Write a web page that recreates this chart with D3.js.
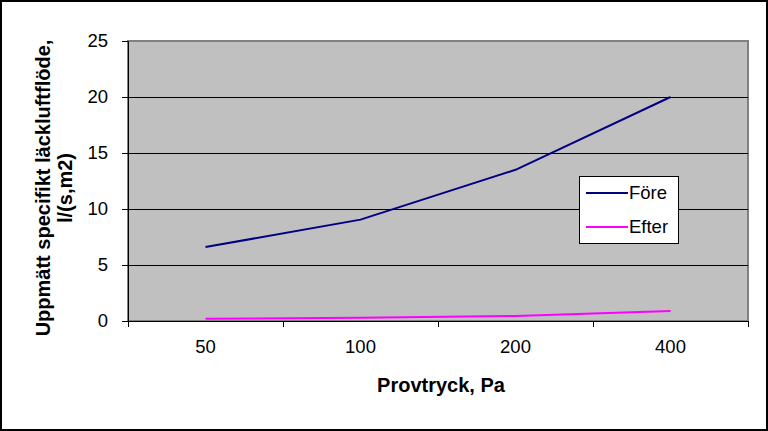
<!DOCTYPE html>
<html><head><meta charset="utf-8">
<script src="https://cdn.jsdelivr.net/npm/d3@7"></script>
<style>body{margin:0;background:#fff}svg{display:block}</style>
</head><body>
<svg id="c" width="768" height="431"></svg>
<script>
const categories = ["50","100","200","400"];
const fore = [6.6, 9.05, 13.5, 20.0];
const efter = [0.2, 0.28, 0.45, 0.9];
const yTicks = [0,5,10,15,20,25];
const seriesNames = ["Före","Efter"];
const seriesColors = ["#000080","#FF00FF"];

const svg = d3.select("#c");
const W=768,H=431;
const L=128,R=748,T=41,B=321;
const font="Arial, 'Liberation Sans', sans-serif";

svg.append("rect").attr("x",1).attr("y",1).attr("width",W-2).attr("height",H-2)
  .attr("fill","#fff").attr("stroke","#000").attr("stroke-width",2);

const x = d3.scaleBand().domain(categories).range([L,R]).padding(0);
const y = d3.scaleLinear().domain([0,25]).range([B,T]);

svg.append("rect").attr("x",L).attr("y",T).attr("width",R-L).attr("height",B-T)
  .attr("fill","#C0C0C0").attr("stroke","#808080").attr("stroke-width",2);

// gridlines
svg.append("g").selectAll("line").data(yTicks.filter(d=>d>0 && d<25)).join("line")
  .attr("x1",L).attr("x2",R).attr("y1",d=>Math.round(y(d))+0.5).attr("y2",d=>Math.round(y(d))+0.5)
  .attr("stroke","#000").attr("stroke-width",1);

// y axis
const ya = svg.append("g").attr("transform",`translate(${L},0)`)
  .call(d3.axisLeft(y).tickValues(yTicks).tickSize(6).tickPadding(14));
ya.select(".domain").attr("stroke","#000");
ya.selectAll("line").attr("stroke","#000");
ya.selectAll("text").attr("font-family",font).attr("font-size",18.5).attr("fill","#000");

// x axis
const xa = svg.append("g").attr("transform",`translate(0,${B})`);
xa.append("line").attr("x1",L).attr("x2",R).attr("y1",0.5).attr("y2",0.5).attr("stroke","#000");
const edges = categories.map(c=>x(c)).concat([R]);
xa.selectAll("line.t").data(edges).join("line").attr("class","t")
  .attr("x1",d=>Math.round(d)+0.5).attr("x2",d=>Math.round(d)+0.5).attr("y1",0).attr("y2",6).attr("stroke","#000");
xa.selectAll("text").data(categories).join("text")
  .attr("x",d=>x(d)+x.bandwidth()/2).attr("y",32).attr("text-anchor","middle")
  .attr("font-family",font).attr("font-size",18.5).attr("fill","#000").text(d=>d);

// lines
const line = d3.line().x((d,i)=>x(categories[i])+x.bandwidth()/2).y(d=>y(d));
[fore,efter].forEach((s,i)=>{
  svg.append("path").datum(s).attr("d",line).attr("fill","none")
    .attr("stroke",seriesColors[i]).attr("stroke-width",2);
});

// legend
const lg = svg.append("g");
lg.append("rect").attr("x",579.5).attr("y",176.5).attr("width",99).attr("height",67)
  .attr("fill","#fff").attr("stroke","#000").attr("stroke-width",1);
seriesNames.forEach((n,i)=>{
  const yy = 193 + i*34;
  lg.append("line").attr("x1",586).attr("x2",628).attr("y1",yy).attr("y2",yy)
    .attr("stroke",seriesColors[i]).attr("stroke-width",2);
  lg.append("text").attr("x",629).attr("y",yy+6).attr("font-family",font).attr("font-size",18.5)
    .attr("fill","#000").text(n);
});

// titles
svg.append("text").attr("x",441).attr("y",392).attr("text-anchor","middle")
  .attr("font-family",font).attr("font-size",20).attr("font-weight","bold").text("Provtryck, Pa");
const yt = svg.append("text").attr("transform","translate(0,188) rotate(-90)")
  .attr("text-anchor","middle").attr("font-family",font).attr("font-size",20).attr("font-weight","bold");
yt.append("tspan").attr("x",0).attr("y",50).text("Uppmätt specifikt läckluftflöde,");
yt.append("tspan").attr("x",0).attr("y",72).text("l/(s,m2)");
</script>
</body></html>
